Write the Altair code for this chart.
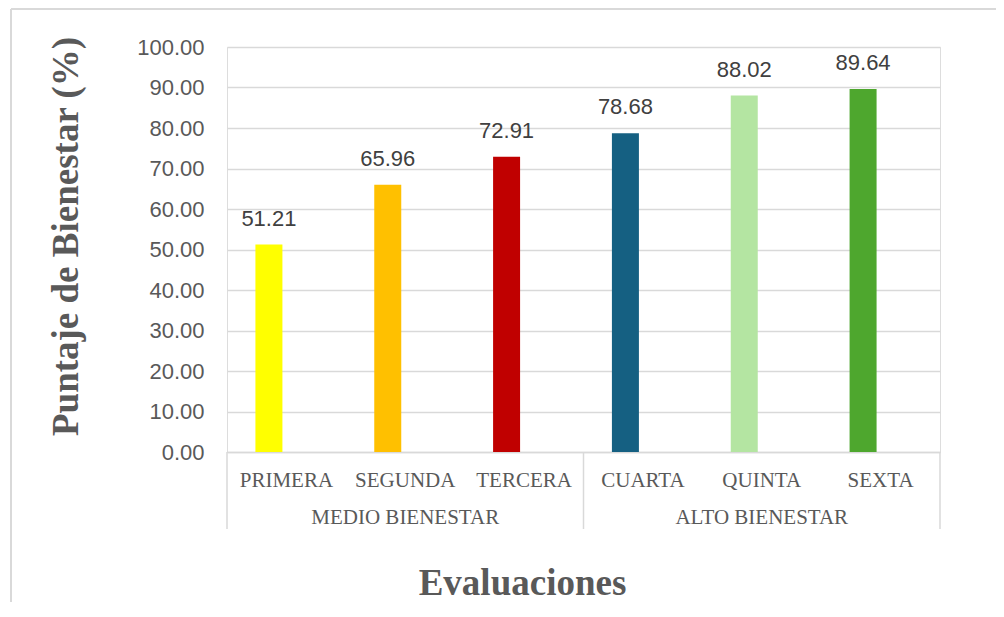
import altair as alt
import pandas as pd

CATEGORIES = ["PRIMERA", "SEGUNDA", "TERCERA", "CUARTA", "QUINTA", "SEXTA"]
VALUES = [51.21, 65.96, 72.91, 78.68, 88.02, 89.64]
GROUPS = ["MEDIO BIENESTAR", "MEDIO BIENESTAR", "MEDIO BIENESTAR",
          "ALTO BIENESTAR", "ALTO BIENESTAR", "ALTO BIENESTAR"]
Y_TICKS = [0, 10, 20, 30, 40, 50, 60, 70, 80, 90, 100]
COLORS = ["#FFFF00", "#FFC000", "#C00000", "#156082", "#B4E5A2", "#4EA72E"]

df = pd.DataFrame({"cat": CATEGORIES, "val": VALUES, "group": GROUPS})

# group label sits under the middle category of each group
group_rows = []
for g in dict.fromkeys(GROUPS):
    cats = [c for c, gg in zip(CATEGORIES, GROUPS) if gg == g]
    group_rows.append({"group": g, "cat": cats[len(cats) // 2]})
gdf = pd.DataFrame(group_rows)

starts = pd.DataFrame({"cat": [next(c for c, gg in zip(CATEGORIES, GROUPS) if gg == g)
                               for g in dict.fromkeys(GROUPS)]})
ends = pd.DataFrame({"cat": [CATEGORIES[-1]]})

GRID = "#d9d9d9"
TXT = "#595959"
SERIF = "Liberation Serif"
SANS = "Liberation Sans"

xscale = alt.Scale(domain=CATEGORIES, paddingInner=0, paddingOuter=0)
yscale = alt.Scale(domain=[0, 100])

xaxis = alt.Axis(title="Evaluaciones", labelAngle=0, ticks=False,
                 domain=True, domainColor=GRID, domainWidth=1.3, grid=False,
                 labelFont=SERIF, labelFontSize=21, labelColor=TXT,
                 labelBaseline="alphabetic", labelPadding=34,
                 titleFont=SERIF, titleFontSize=37, titleFontWeight="bold",
                 titleColor=TXT, titleX=295, titleY=142,
                 titleAlign="center", titleBaseline="alphabetic")
yaxis = alt.Axis(title="Puntaje de Bienestar (%)", values=Y_TICKS, format=".2f",
                 ticks=False, domain=False, grid=True, gridColor=GRID,
                 gridWidth=1.3, labelFont=SANS, labelFontSize=22,
                 labelColor=TXT, labelPadding=23,
                 titleFont=SERIF, titleFontSize=37, titleFontWeight="bold",
                 titleColor=TXT, titleAngle=270, titleX=-161, titleY=189,
                 titleAlign="center", titleBaseline="middle")


def xenc(**kw):
    return alt.X("cat:N", sort=CATEGORIES, scale=xscale, axis=xaxis, **kw)


bars = alt.Chart(df).mark_bar(size=27, xOffset=-17.5).encode(
    x=xenc(),
    y=alt.Y("val:Q", scale=yscale, axis=yaxis),
    color=alt.Color("cat:N", scale=alt.Scale(domain=CATEGORIES, range=COLORS), legend=None),
)

labels = alt.Chart(df).mark_text(xOffset=-17.5, dy=-19, baseline="alphabetic",
                                 font=SANS, fontSize=22, color="#404040").encode(
    x=xenc(),
    y=alt.Y("val:Q", scale=yscale, axis=yaxis),
    text=alt.Text("val:Q", format=".2f"),
)

glabels = alt.Chart(gdf).mark_text(baseline="alphabetic", font=SERIF, fontSize=21,
                                   color=TXT).encode(
    x=xenc(),
    y=alt.value(477),
    text="group:N",
)

sep_start = alt.Chart(starts).mark_rule(color=GRID, strokeWidth=1.5).encode(
    x=xenc(bandPosition=0),
    y=alt.value(405), y2=alt.value(482),
)
sep_end = alt.Chart(ends).mark_rule(color=GRID, strokeWidth=1.5).encode(
    x=xenc(bandPosition=1),
    y=alt.value(405), y2=alt.value(482),
)

border_top = alt.Chart(ends).mark_rule(color=GRID, strokeWidth=2).encode(
    x=alt.value(-216), x2=alt.value(800), y=alt.value(-38))
border_left = alt.Chart(ends).mark_rule(color=GRID, strokeWidth=2).encode(
    x=alt.value(-216), y=alt.value(-38), y2=alt.value(600))

chart = alt.layer(bars, labels, glabels, sep_start, sep_end, border_top, border_left).properties(
    width=713, height=405,
    autosize=alt.AutoSizeParams(type="none"),
    padding={"left": 219, "top": 39, "right": 56, "bottom": 150},
).configure_view(stroke=None).configure(background="white")

chart.save("out.html", embed_options={"renderer": "svg", "actions": False})
